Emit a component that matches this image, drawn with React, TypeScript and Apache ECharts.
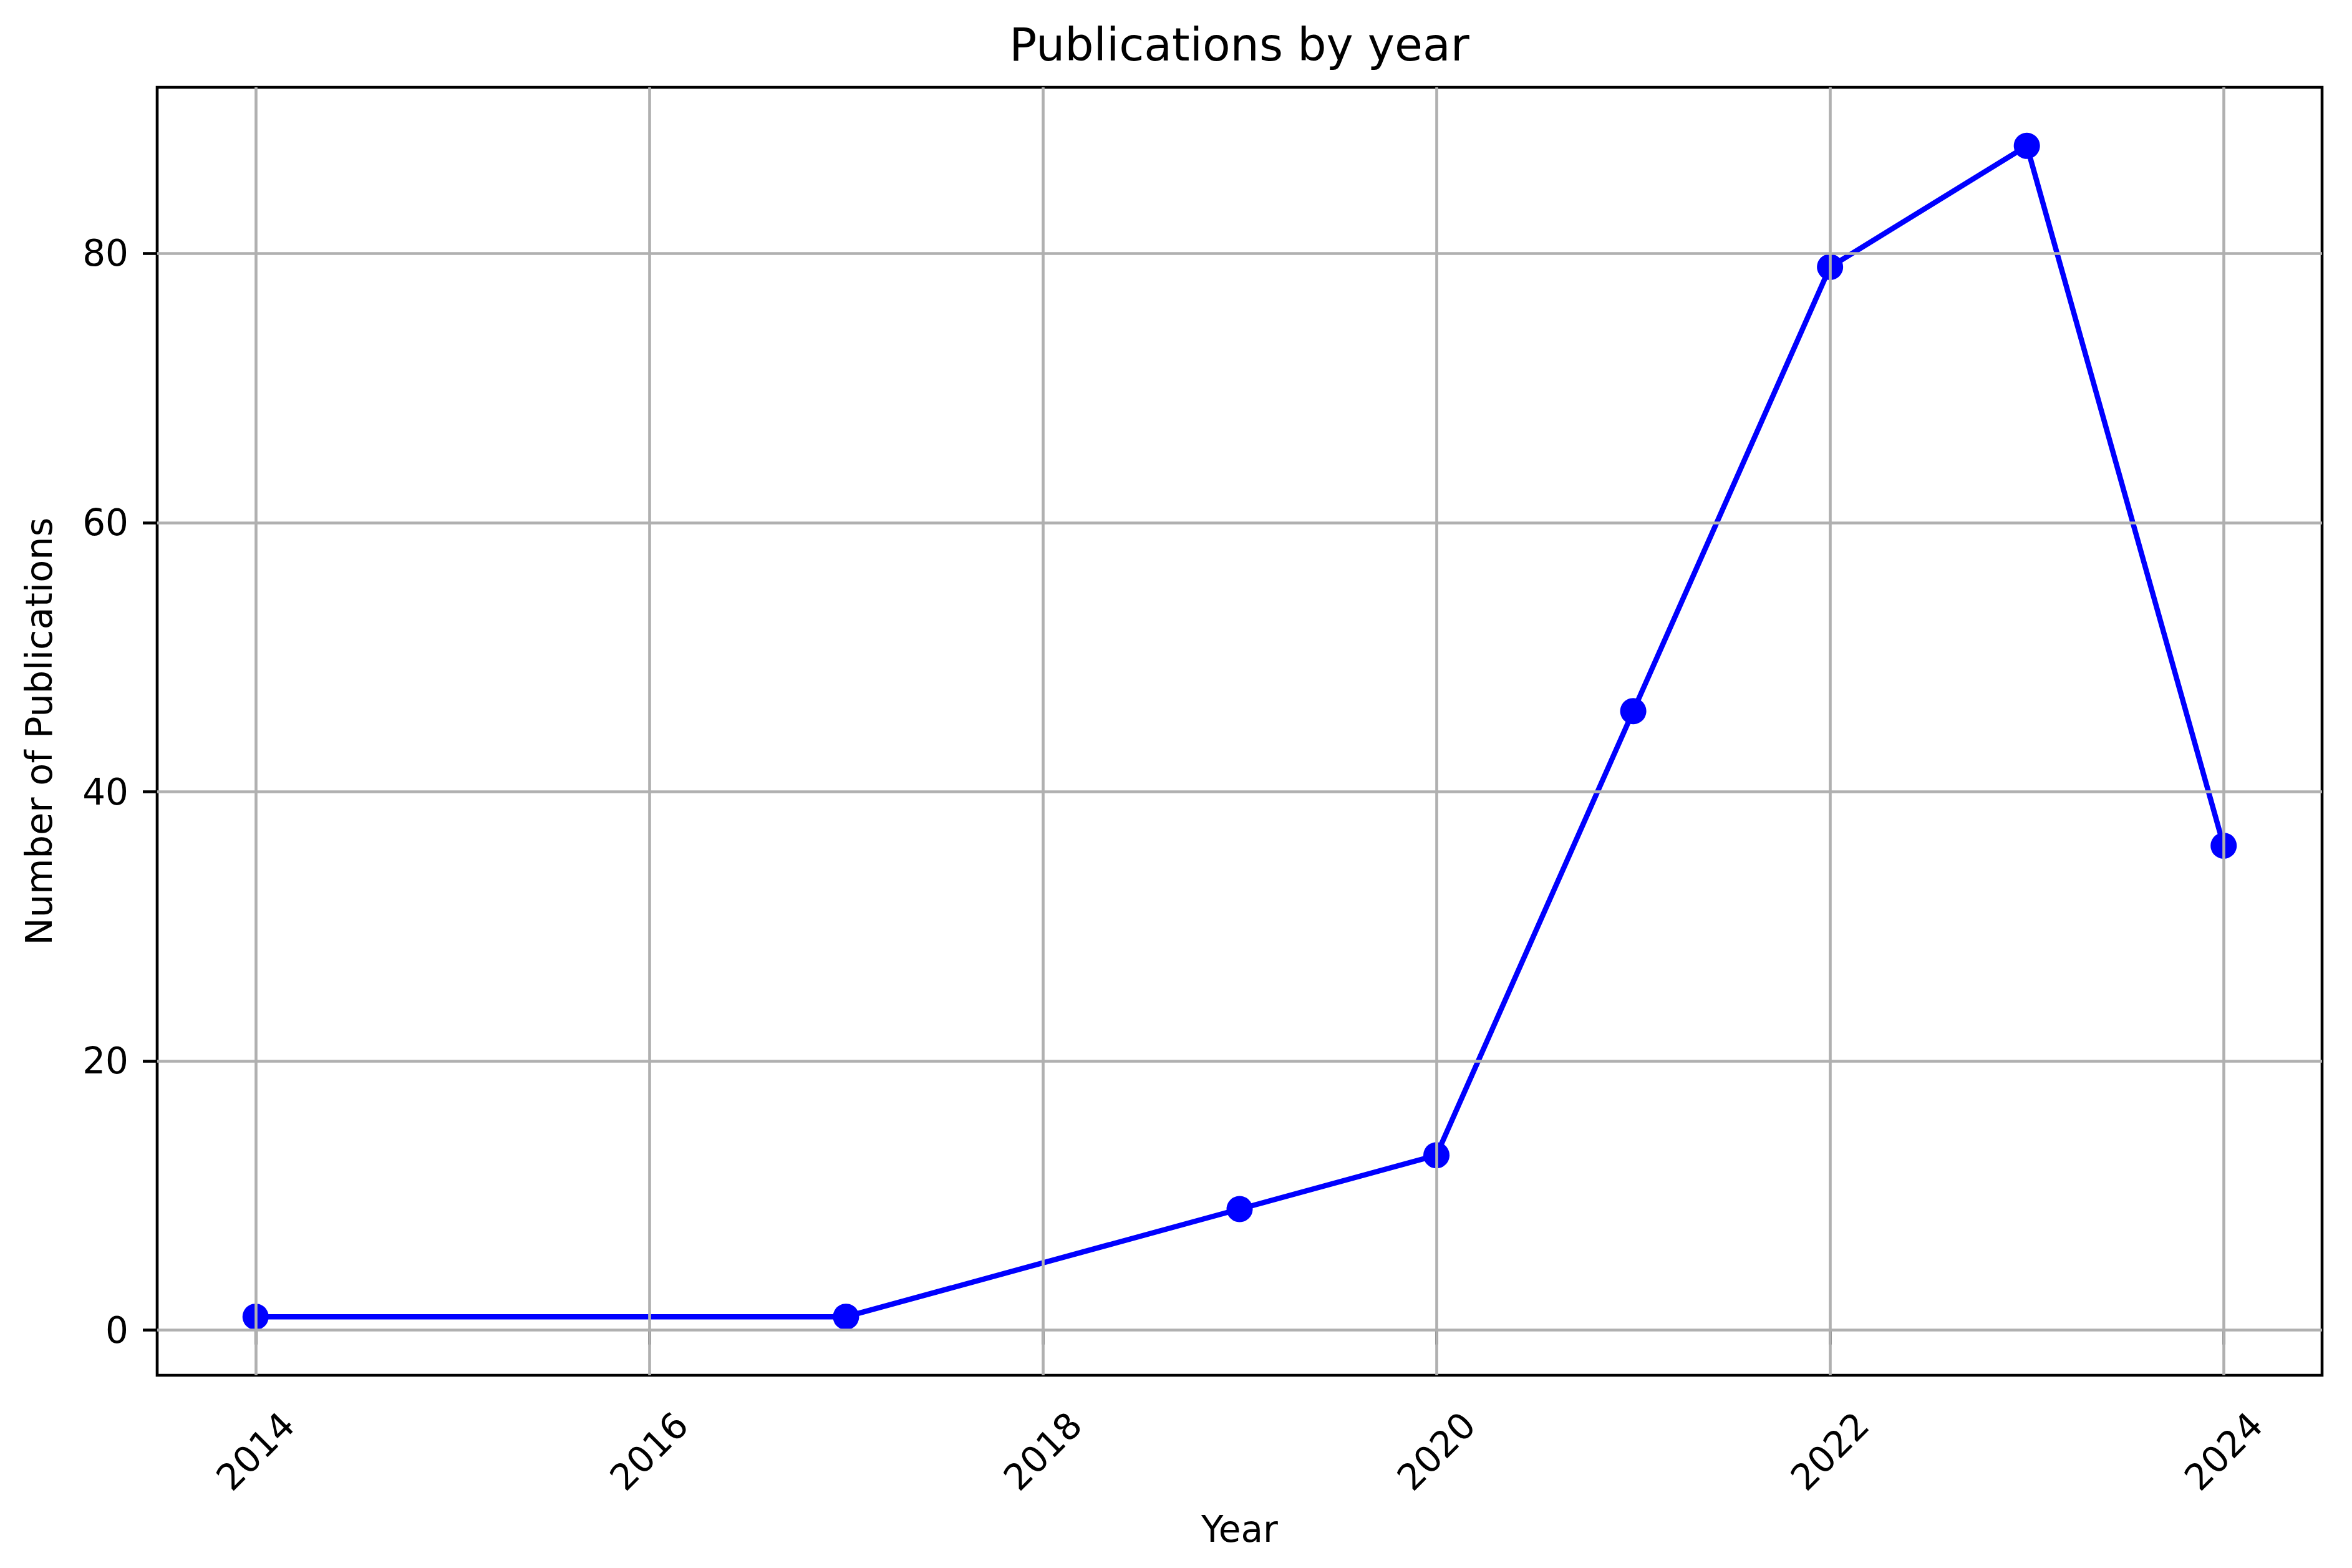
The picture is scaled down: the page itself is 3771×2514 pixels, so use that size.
import React, { useEffect, useRef } from "react";
import * as echarts from "echarts";

const years = [2014, 2017, 2019, 2020, 2021, 2022, 2023, 2024];
const publications = [1, 1, 9, 13, 46, 79, 88, 36];
const xTicks = [2014, 2016, 2018, 2020, 2022, 2024];
const yTicks = [0, 20, 40, 60, 80];
const titleText = "Publications by year";
const xName = "Year";
const yName = "Number of Publications";

const FONT = "DejaVu Sans";

export default function App() {
  const ref = useRef<HTMLDivElement>(null);
  useEffect(() => {
    if (!ref.current) return;
    const chart = echarts.init(ref.current, null, { renderer: "svg" });
    const pts = years.map((y, i) => [y, publications[i]]);
    const gridStyle = { color: "#b0b0b0", width: 4.6, type: "solid" as const };
    chart.setOption({
      animation: false,
      backgroundColor: "#ffffff",
      textStyle: { fontFamily: FONT },
      title: {
        text: titleText,
        left: 1982,
        textAlign: "center",
        top: 30,
        textStyle: { fontFamily: FONT, fontSize: 73, fontWeight: "normal", color: "#000" },
      },
      grid: {
        left: 252,
        right: 48,
        top: 140,
        bottom: 309,
        show: true,
        borderColor: "#000",
        borderWidth: 4.6,
        backgroundColor: "transparent",
        containLabel: false,
      },
      xAxis: {
        type: "value",
        min: 2013.5,
        max: 2024.5,
        name: xName,
        nameLocation: "middle",
        nameGap: 218,
        nameTextStyle: { fontFamily: FONT, fontSize: 58, color: "#000", verticalAlign: "top" },
        axisLine: { show: false },
        axisTick: { show: true, customValues: xTicks, length: 23, lineStyle: { color: "#000", width: 4.6 } },
        axisLabel: {
          customValues: xTicks,
          rotate: 45,
          align: "center",
          verticalAlign: "middle",
          margin: 122,
          fontFamily: FONT,
          fontSize: 58,
          color: "#000",
          formatter: (v: number) => String(v),
        },
        splitLine: { show: false },
      },
      yAxis: {
        type: "value",
        min: -3.35,
        max: 92.35,
        name: yName,
        nameLocation: "middle",
        nameGap: 160,
        nameRotate: 90,
        nameTextStyle: { fontFamily: FONT, fontSize: 59, color: "#000" },
        axisLine: { show: false },
        axisTick: { show: true, customValues: yTicks, length: 23, lineStyle: { color: "#000", width: 4.6 } },
        axisLabel: {
          customValues: yTicks,
          margin: 46,
          fontFamily: FONT,
          fontSize: 58,
          color: "#000",
          formatter: (v: number) => String(v),
        },
        splitLine: { show: false },
      },
      series: [
        {
          type: "line",
          name: "grid",
          z: 1,
          data: pts,
          symbol: "none",
          showSymbol: false,
          lineStyle: { opacity: 0 },
          silent: true,
          tooltip: { show: false },
          markLine: {
            silent: true,
            symbol: ["none", "none"],
            label: { show: false },
            lineStyle: gridStyle,
            emphasis: { disabled: true },
            data: [
              ...xTicks.map((v) => ({ xAxis: v })),
              ...yTicks.map((v) => ({ yAxis: v })),
            ],
          },
        },
        {
          type: "line",
          name: "Publications",
          z: 3,
          data: pts,
          symbol: "circle",
          symbolSize: 42,
          itemStyle: { color: "#0000ff" },
          lineStyle: { color: "#0000ff", width: 8.5 },
        },
      ],
    });
    return () => chart.dispose();
  }, []);
  return (
    <div
      ref={ref}
      style={{ position: "fixed", left: 0, top: 0, width: 3771, height: 2514, background: "#fff" }}
    />
  );
}
